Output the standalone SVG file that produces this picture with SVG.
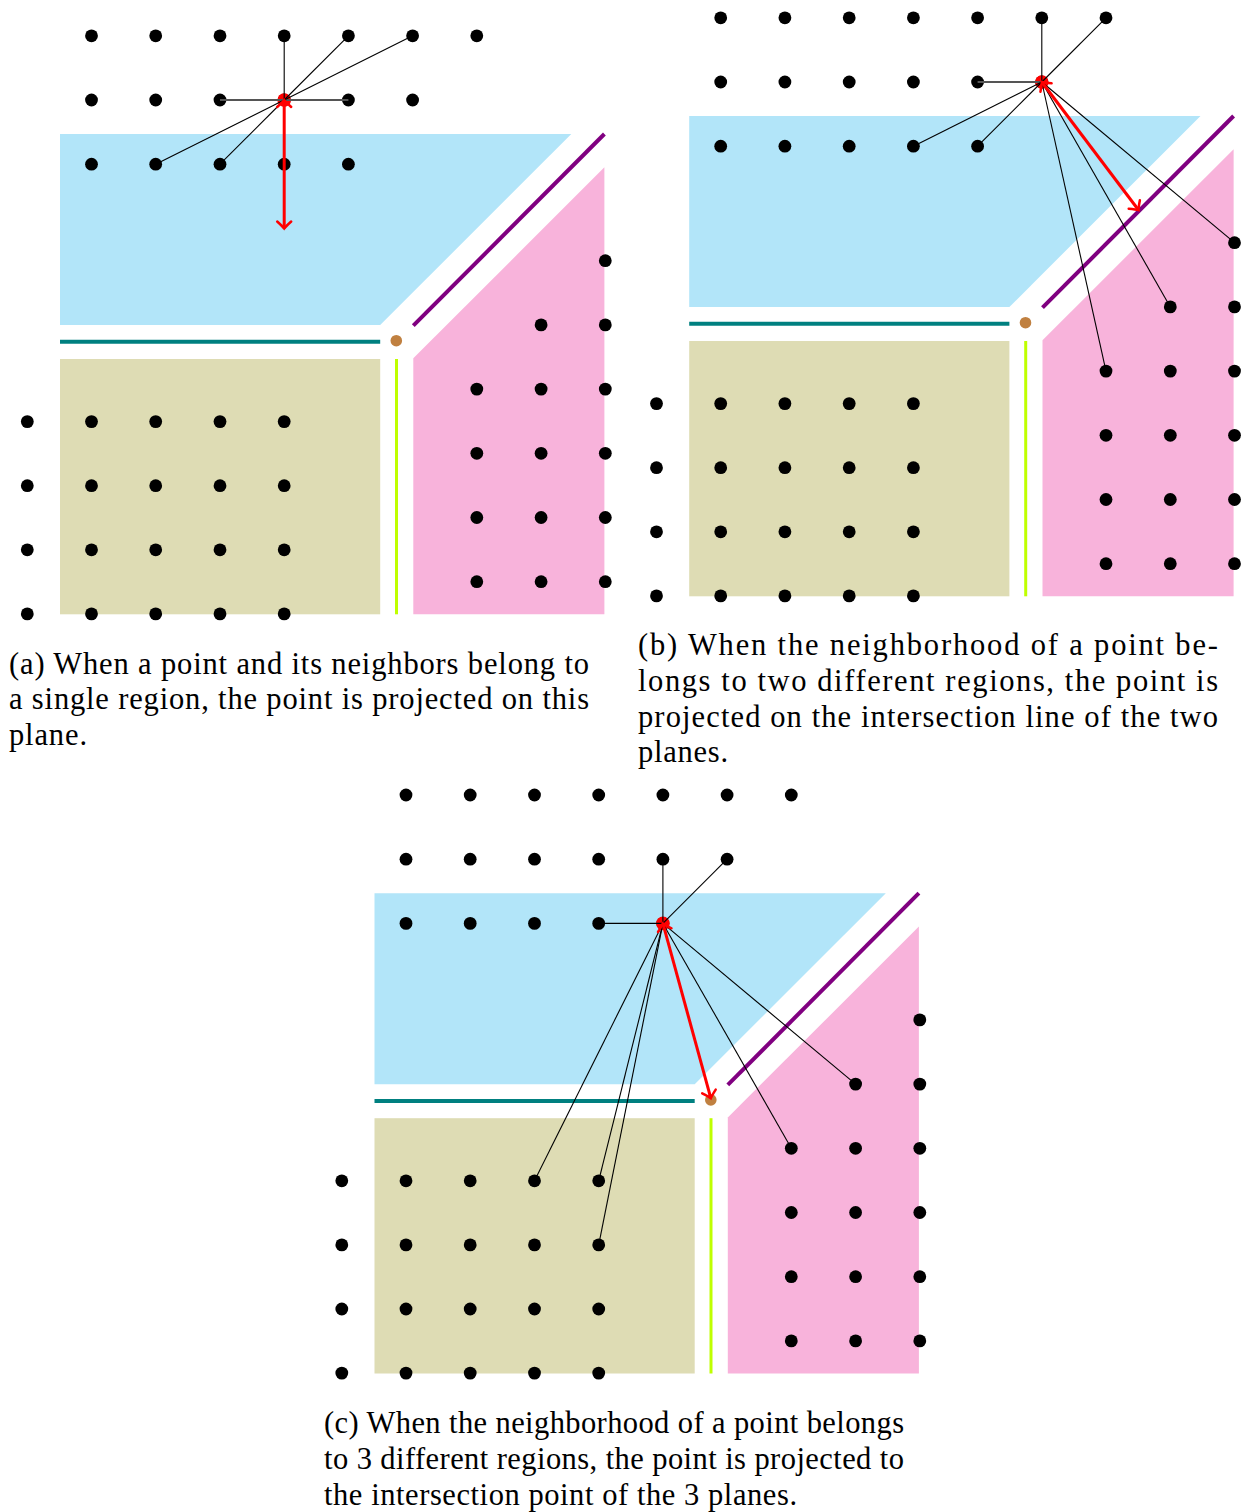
<svg xmlns="http://www.w3.org/2000/svg" xmlns:xlink="http://www.w3.org/1999/xlink" width="1249" height="1512" viewBox="0 0 1249 1512">
<style>
.blue{fill:#B2E5F9}
.khaki{fill:#DEDCB4}
.pink{fill:#F8B3DB}
.teal{stroke:#008080;stroke-width:4;fill:none}
.lime{stroke:#BFFF00;stroke-width:3;fill:none}
.purple{stroke:#800080;stroke-width:4;fill:none}
.brown{fill:#C08040}
.dot{fill:#000}
.red{fill:#FF0000}
.nb{stroke:#000;stroke-width:1.1;fill:none}
.nbh{stroke:#555;stroke-width:2;fill:none}
.arr{stroke:#FF0000;stroke-width:3;fill:none;marker-start:url(#chev);marker-end:url(#chev)}
.cap{font-family:"Liberation Serif","DejaVu Serif",serif;font-size:30.5px;fill:#000}
</style>
<defs>
<marker id="chev" viewBox="-10 -10 20 20" markerWidth="20" markerHeight="20" refX="0" refY="0" orient="auto-start-reverse" markerUnits="userSpaceOnUse">
<path d="M-7,-7 Q-2,-1.5 0,0 Q-2,1.5 -7,7" fill="none" stroke="#FF0000" stroke-width="2.5" stroke-linecap="round"/>
</marker>
<g id="regions">
<polygon class="blue" points="60,134 571.3,134 380.2,325 60,325"/>
<line class="teal" x1="60" y1="341.7" x2="380.2" y2="341.7"/>
<rect class="khaki" x="60" y="359" width="320.2" height="255.3"/>
<line class="lime" x1="396.5" y1="359" x2="396.5" y2="614.3"/>
<polygon class="pink" points="413.3,358.3 604.4,167.3 604.4,614.3 413.3,614.3"/>
<line class="purple" x1="413.3" y1="325.7" x2="604.4" y2="134"/>
<circle class="brown" cx="396.3" cy="340.7" r="5.8"/>
</g>
<g id="dots">
<g class="dot">
<circle cx="91.5" cy="35.8" r="6.4"/><circle cx="155.7" cy="35.8" r="6.4"/><circle cx="220" cy="35.8" r="6.4"/><circle cx="284.2" cy="35.8" r="6.4"/><circle cx="348.4" cy="35.8" r="6.4"/><circle cx="412.6" cy="35.8" r="6.4"/><circle cx="476.8" cy="35.8" r="6.4"/>
<circle cx="91.5" cy="100" r="6.4"/><circle cx="155.7" cy="100" r="6.4"/><circle cx="220" cy="100" r="6.4"/><circle cx="284.2" cy="100" r="6.4"/><circle cx="348.4" cy="100" r="6.4"/><circle cx="412.6" cy="100" r="6.4"/>
<circle cx="91.5" cy="164.2" r="6.4"/><circle cx="155.7" cy="164.2" r="6.4"/><circle cx="220" cy="164.2" r="6.4"/><circle cx="284.2" cy="164.2" r="6.4"/><circle cx="348.4" cy="164.2" r="6.4"/>
<circle cx="27.3" cy="421.6" r="6.4"/><circle cx="91.5" cy="421.6" r="6.4"/><circle cx="155.7" cy="421.6" r="6.4"/><circle cx="220" cy="421.6" r="6.4"/><circle cx="284.2" cy="421.6" r="6.4"/>
<circle cx="27.3" cy="485.7" r="6.4"/><circle cx="91.5" cy="485.7" r="6.4"/><circle cx="155.7" cy="485.7" r="6.4"/><circle cx="220" cy="485.7" r="6.4"/><circle cx="284.2" cy="485.7" r="6.4"/>
<circle cx="27.3" cy="549.8" r="6.4"/><circle cx="91.5" cy="549.8" r="6.4"/><circle cx="155.7" cy="549.8" r="6.4"/><circle cx="220" cy="549.8" r="6.4"/><circle cx="284.2" cy="549.8" r="6.4"/>
<circle cx="27.3" cy="613.9" r="6.4"/><circle cx="91.5" cy="613.9" r="6.4"/><circle cx="155.7" cy="613.9" r="6.4"/><circle cx="220" cy="613.9" r="6.4"/><circle cx="284.2" cy="613.9" r="6.4"/>
<circle cx="605.3" cy="260.7" r="6.4"/>
<circle cx="541.1" cy="324.9" r="6.4"/><circle cx="605.3" cy="324.9" r="6.4"/>
<circle cx="476.8" cy="389.1" r="6.4"/><circle cx="541.1" cy="389.1" r="6.4"/><circle cx="605.3" cy="389.1" r="6.4"/>
<circle cx="476.8" cy="453.3" r="6.4"/><circle cx="541.1" cy="453.3" r="6.4"/><circle cx="605.3" cy="453.3" r="6.4"/>
<circle cx="476.8" cy="517.5" r="6.4"/><circle cx="541.1" cy="517.5" r="6.4"/><circle cx="605.3" cy="517.5" r="6.4"/>
<circle cx="476.8" cy="581.7" r="6.4"/><circle cx="541.1" cy="581.7" r="6.4"/><circle cx="605.3" cy="581.7" r="6.4"/>
</g>
</g>
</defs>

<g id="panel-a">
<use xlink:href="#regions"/>
<use xlink:href="#dots"/>
<circle class="red" cx="284.2" cy="100" r="6.8"/>
<g id="connectors-a">
<line class="nbh" x1="220" y1="100" x2="348.4" y2="100"/>
<line class="nb" x1="284.2" y1="100" x2="284.2" y2="35.8"/>
<line class="nb" x1="284.2" y1="100" x2="348.4" y2="35.8"/>
<line class="nb" x1="284.2" y1="100" x2="412.6" y2="35.8"/>
<line class="nb" x1="284.2" y1="100" x2="155.7" y2="164.2"/>
<line class="nb" x1="284.2" y1="100" x2="220" y2="164.2"/>
<line class="arr" x1="284.2" y1="100" x2="284.2" y2="228.5"/>
</g>
<text class="cap" x="9" y="673.5" textLength="580" lengthAdjust="spacing">(a) When a point and its neighbors belong to</text>
<text class="cap" x="9" y="709.2" textLength="580" lengthAdjust="spacing">a single region, the point is projected on this</text>
<text class="cap" x="9" y="744.9" textLength="78" lengthAdjust="spacing">plane.</text>
</g>

<g id="panel-b">
<g transform="translate(629.2,-18)">
<use xlink:href="#regions"/>
<use xlink:href="#dots"/>
<circle class="red" cx="412.6" cy="100" r="6.8"/>
<g id="connectors-b">
<line class="nbh" x1="412.6" y1="100" x2="348.4" y2="100"/>
<line class="nb" x1="412.6" y1="100" x2="412.6" y2="35.8"/>
<line class="nb" x1="412.6" y1="100" x2="476.8" y2="35.8"/>
<line class="nb" x1="412.6" y1="100" x2="284.2" y2="164.2"/>
<line class="nb" x1="412.6" y1="100" x2="348.4" y2="164.2"/>
<line class="nb" x1="412.6" y1="100" x2="605.3" y2="260.7"/>
<line class="nb" x1="412.6" y1="100" x2="541.1" y2="324.9"/>
<line class="nb" x1="412.6" y1="100" x2="476.8" y2="389.1"/>
<line class="arr" x1="412.6" y1="100" x2="509.3" y2="228"/>
</g>
</g>
<text class="cap" x="638" y="655.3" textLength="580" lengthAdjust="spacing">(b) When the neighborhood of a point be-</text>
<text class="cap" x="638" y="691" textLength="580" lengthAdjust="spacing">longs to two different regions, the point is</text>
<text class="cap" x="638" y="726.7" textLength="580" lengthAdjust="spacing">projected on the intersection line of the two</text>
<text class="cap" x="638" y="762.4" textLength="90" lengthAdjust="spacing">planes.</text>
</g>

<g id="panel-c">
<g transform="translate(314.5,759.2)">
<use xlink:href="#regions"/>
<use xlink:href="#dots"/>
<circle class="red" cx="348.4" cy="164.2" r="6.8"/>
<g id="connectors-c">
<line class="nb" x1="348.4" y1="164.2" x2="284.2" y2="164.2"/>
<line class="nb" x1="348.4" y1="164.2" x2="348.4" y2="100"/>
<line class="nb" x1="348.4" y1="164.2" x2="412.6" y2="100"/>
<line class="nb" x1="348.4" y1="164.2" x2="541.1" y2="324.9"/>
<line class="nb" x1="348.4" y1="164.2" x2="476.8" y2="389.1"/>
<line class="nb" x1="348.4" y1="164.2" x2="220" y2="421.6"/>
<line class="nb" x1="348.4" y1="164.2" x2="284.2" y2="421.6"/>
<line class="nb" x1="348.4" y1="164.2" x2="284.2" y2="485.7"/>
<line class="arr" x1="348.4" y1="164.2" x2="396.3" y2="339"/>
</g>
</g>
<text class="cap" x="324" y="1433" textLength="580" lengthAdjust="spacing">(c) When the neighborhood of a point belongs</text>
<text class="cap" x="324" y="1469" textLength="580" lengthAdjust="spacing">to 3 different regions, the point is projected to</text>
<text class="cap" x="324" y="1505" textLength="473" lengthAdjust="spacing">the intersection point of the 3 planes.</text>
</g>
</svg>
